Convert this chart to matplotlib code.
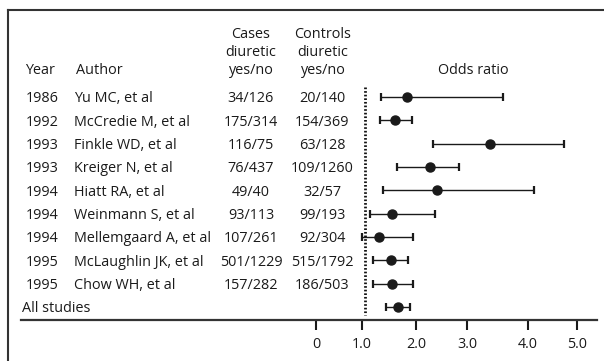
import numpy as np
import matplotlib
matplotlib.use("Agg")
import matplotlib.pyplot as plt
import matplotlib.transforms as mtransforms
from matplotlib.lines import Line2D

years = ['1986', '1992', '1993', '1993', '1994', '1994', '1994', '1995', '1995']
authors = ['Yu MC, et al', 'McCredie M, et al', 'Finkle WD, et al', 'Kreiger N, et al',
           'Hiatt RA, et al', 'Weinmann S, et al', 'Mellemgaard A, et al',
           'McLaughlin JK, et al', 'Chow WH, et al']
cases = ['34/126', '175/314', '116/75', '76/437', '49/40', '93/113', '107/261', '501/1229', '157/282']
controls = ['20/140', '154/369', '63/128', '109/1260', '32/57', '99/193', '92/304', '515/1792', '186/503']
# last entry = All studies
odds = [1.83, 1.61, 3.38, 2.27, 2.41, 1.56, 1.31, 1.54, 1.56, 1.67]
ci_lo = [1.35, 1.33, 2.33, 1.65, 1.39, 1.15, 1.00, 1.20, 1.20, 1.44]
ci_hi = [3.59, 1.93, 4.73, 2.84, 4.12, 2.37, 1.94, 1.85, 1.94, 1.89]
ticks = [0, 1, 2, 3, 4, 5]
tick_labels = ['0', '1.0', '2.0', '3.0', '4.0', '5.0']

plt.rcParams['font.family'] = ['Open Sans', 'DejaVu Sans']
FS = 10.4
INK = '#1a1a1a'

W, H = 604, 361
fig = plt.figure(figsize=(W / 100, H / 100), dpi=100)

# the printed axis is not evenly spaced, so follow its tick marks
tick_px = [316, 362, 416, 467, 528, 577]


def fwd(v):
    v = np.asarray(v, float)
    out = np.interp(v, ticks, tick_px)
    out = np.where(v > ticks[-1], tick_px[-1] + (v - ticks[-1]) * (tick_px[-1] - tick_px[-2]), out)
    out = np.where(v < ticks[0], tick_px[0] + (v - ticks[0]) * (tick_px[1] - tick_px[0]), out)
    return out


def inv(p):
    p = np.asarray(p, float)
    out = np.interp(p, tick_px, ticks)
    out = np.where(p > tick_px[-1], ticks[-1] + (p - tick_px[-1]) / (tick_px[-1] - tick_px[-2]), out)
    out = np.where(p < tick_px[0], ticks[0] + (p - tick_px[0]) / (tick_px[1] - tick_px[0]), out)
    return out


row0, step = 97, 23.33
ax = fig.add_axes([316 / W, 1 - 320 / H, (597 - 316) / W, 310 / H])
ax.set_xscale('function', functions=(fwd, inv))
ax.set_xlim(0, inv(597))
ax.set_ylim((320 - row0) / step, (10 - row0) / step)

n = len(odds)
rows = np.arange(n)
ax.errorbar(odds, rows, xerr=[np.array(odds) - ci_lo, np.array(ci_hi) - odds],
            fmt='o', color=INK, ms=6.5, lw=1.0, capsize=3, capthick=1.6, zorder=3)
ax.plot([1.05, 1.05], [(87 - row0) / step, (315 - row0) / step], color='#111111',
        lw=2.0, linestyle=(0, (0.6, 0.7)))

for s in ['top', 'right', 'left', 'bottom']:
    ax.spines[s].set_visible(False)
ax.set_yticks([])
ax.set_xticks(ticks)
ax.set_xticklabels(tick_labels, fontsize=FS, color=INK)
ax.tick_params(axis='x', length=7, width=1.5, color=INK, pad=5)

# table columns: x in figure pixels, y in row units
tr = mtransforms.blended_transform_factory(fig.transFigure, ax.transData)


def fx(px):
    return px / W


for i in range(len(years)):
    ax.text(fx(26), i, years[i], transform=tr, fontsize=FS, color=INK, va='center_baseline')
    ax.text(fx(74), i, authors[i], transform=tr, fontsize=FS, color=INK, va='center_baseline')
    ax.text(fx(251), i, cases[i], transform=tr, fontsize=FS, color=INK, va='center_baseline', ha='center')
    ax.text(fx(322), i, controls[i], transform=tr, fontsize=FS, color=INK, va='center_baseline', ha='center')
ax.text(fx(22), n - 1, 'All studies', transform=tr, fontsize=FS, color=INK, va='center_baseline')

# header
hy = [(33 - row0) / step, (51 - row0) / step, (68 - row0) / step]
ax.text(fx(25), hy[2], 'Year', transform=tr, fontsize=FS, color=INK, va='center_baseline')
ax.text(fx(76), hy[2], 'Author', transform=tr, fontsize=FS, color=INK, va='center_baseline')
for j, word in enumerate(['Cases', 'diuretic', 'yes/no']):
    ax.text(fx(251), hy[j], word, transform=tr, fontsize=FS, color=INK, va='center_baseline', ha='center')
for j, word in enumerate(['Controls', 'diuretic', 'yes/no']):
    ax.text(fx(323), hy[j], word, transform=tr, fontsize=FS, color=INK, va='center_baseline', ha='center')
ax.text(fx(473), hy[2], 'Odds ratio', transform=tr, fontsize=FS, color=INK, va='center_baseline', ha='center')

# frame lines
fig.add_artist(Line2D([8 / W, 1], [1 - 10 / H, 1 - 10 / H], color='#333333', lw=1.5))
fig.add_artist(Line2D([8 / W, 8 / W], [1 - 10 / H, 0], color='#333333', lw=1.5))
fig.add_artist(Line2D([21 / W, 597 / W], [1 - 320 / H, 1 - 320 / H], color='#333333', lw=1.6))

fig.savefig('out.png', dpi=100)
